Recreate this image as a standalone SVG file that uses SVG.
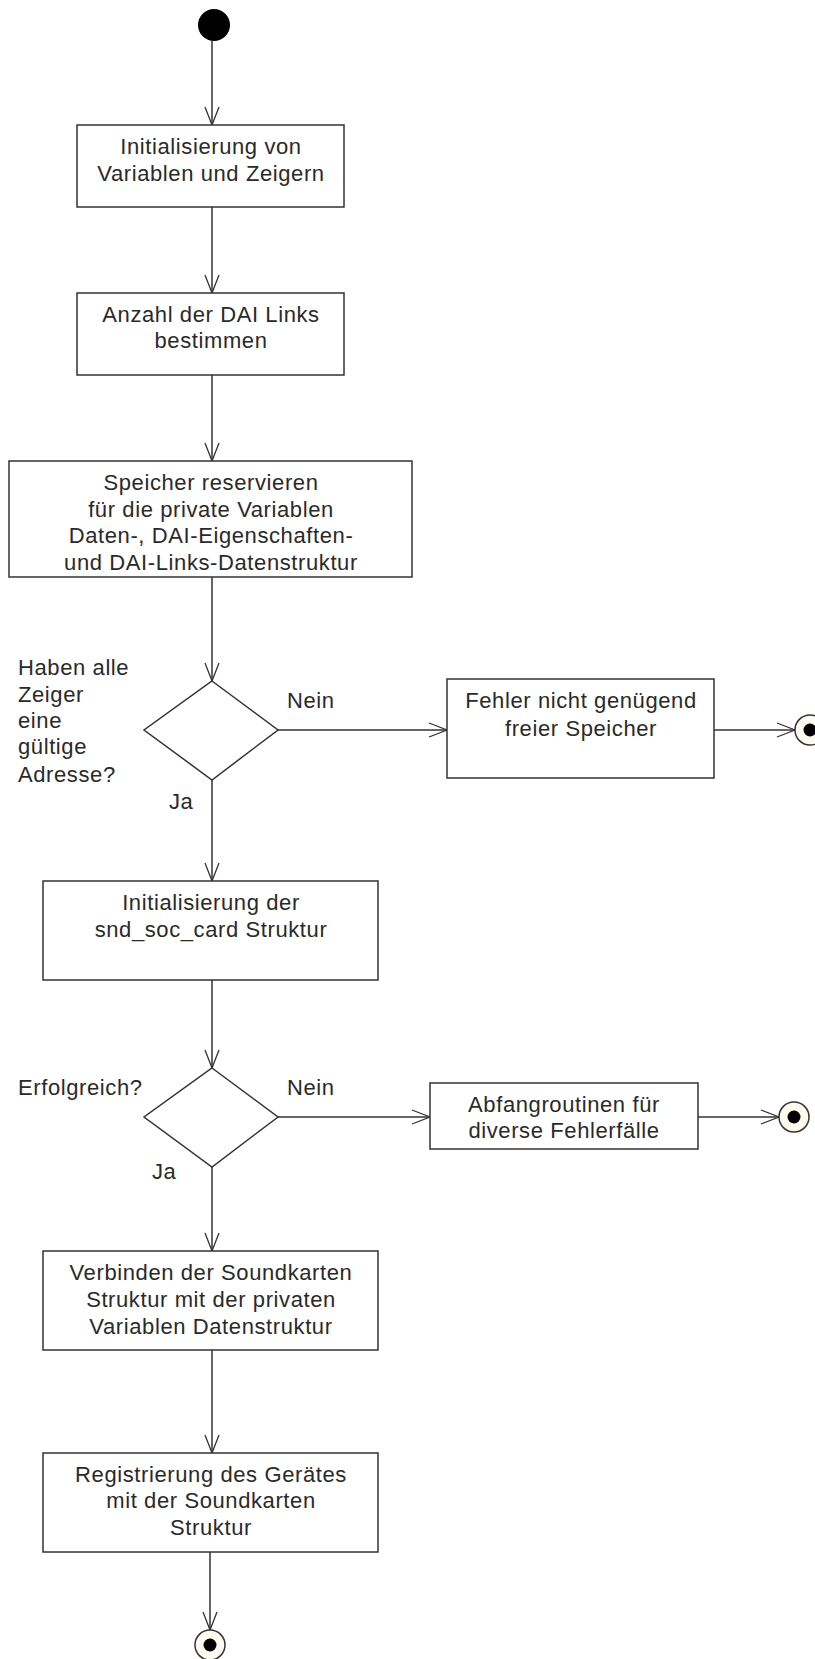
<svg xmlns="http://www.w3.org/2000/svg" width="815" height="1659" viewBox="0 0 815 1659">
<defs>
<style>
.box{fill:#fff;stroke:#333;stroke-width:1.5}
.dia{fill:#fff;stroke:#333;stroke-width:1.5}
.t{font-family:"Liberation Sans",Arial,sans-serif;font-size:22px;fill:#2a2a2a;letter-spacing:0.6px}
.m{text-anchor:middle}
.c{stroke:#333;stroke-width:1.5;fill:none}
.endo{fill:#fffaf0;stroke:#333;stroke-width:1.5}
.endi{fill:#000}
</style>
<marker id="arr" viewBox="-20 -10 22 20" refX="0" refY="0" markerWidth="22" markerHeight="20" markerUnits="userSpaceOnUse" orient="auto">
<path d="M-18,-7 L0,0 L-18,7" fill="none" stroke="#333" stroke-width="1.3"/>
</marker>
</defs>
<rect width="815" height="1659" fill="#fff"/>
<g id="connectors">
<line class="c" x1="212" y1="41" x2="212" y2="125" marker-end="url(#arr)"/>
<line class="c" x1="212" y1="207" x2="212" y2="293" marker-end="url(#arr)"/>
<line class="c" x1="212" y1="375" x2="212" y2="461" marker-end="url(#arr)"/>
<line class="c" x1="212" y1="577" x2="212" y2="681" marker-end="url(#arr)"/>
<line class="c" x1="278" y1="730" x2="447" y2="730" marker-end="url(#arr)"/>
<line class="c" x1="714" y1="730" x2="795" y2="730" marker-end="url(#arr)"/>
<line class="c" x1="212" y1="780" x2="212" y2="881" marker-end="url(#arr)"/>
<line class="c" x1="212" y1="980" x2="212" y2="1068" marker-end="url(#arr)"/>
<line class="c" x1="278" y1="1117" x2="430" y2="1117" marker-end="url(#arr)"/>
<line class="c" x1="698" y1="1117" x2="779" y2="1117" marker-end="url(#arr)"/>
<line class="c" x1="212" y1="1167" x2="212" y2="1251" marker-end="url(#arr)"/>
<line class="c" x1="212" y1="1350" x2="212" y2="1453" marker-end="url(#arr)"/>
<line class="c" x1="210" y1="1552" x2="210" y2="1630" marker-end="url(#arr)"/>
</g>
<g id="start"><circle cx="214" cy="25" r="16" fill="#000"/></g>
<g id="init">
<rect class="box" x="77" y="125" width="267" height="82"/>
<text class="t m" x="211" y="154">Initialisierung von</text>
<text class="t m" x="211" y="181">Variablen und Zeigern</text>
</g>
<g id="anzahl">
<rect class="box" x="77" y="293" width="267" height="82"/>
<text class="t m" x="211" y="322">Anzahl der DAI Links</text>
<text class="t m" x="211" y="348">bestimmen</text>
</g>
<g id="speicher">
<rect class="box" x="9" y="461" width="403" height="116"/>
<text class="t m" x="211" y="490">Speicher reservieren</text>
<text class="t m" x="211" y="517">für die private Variablen</text>
<text class="t m" x="211" y="543">Daten-, DAI-Eigenschaften-</text>
<text class="t m" x="211" y="570">und DAI-Links-Datenstruktur</text>
</g>
<g id="decision1">
<polygon class="dia" points="212,681 278,730 212,780 144,730"/>
<text class="t" x="18" y="675">Haben alle</text>
<text class="t" x="18" y="702">Zeiger</text>
<text class="t" x="18" y="728">eine</text>
<text class="t" x="18" y="754">gültige</text>
<text class="t" x="18" y="782">Adresse?</text>
<text class="t" x="287" y="708">Nein</text>
<text class="t" x="169" y="809">Ja</text>
</g>
<g id="fehler">
<rect class="box" x="447" y="679" width="267" height="99"/>
<text class="t m" x="581" y="708">Fehler nicht genügend</text>
<text class="t m" x="581" y="736">freier Speicher</text>
</g>
<g id="end1"><circle class="endo" cx="810" cy="730" r="15"/><circle class="endi" cx="810" cy="730" r="6.5"/></g>
<g id="snd">
<rect class="box" x="43" y="881" width="335" height="99"/>
<text class="t m" x="211" y="910">Initialisierung der</text>
<text class="t m" x="211" y="937">snd_soc_card Struktur</text>
</g>
<g id="decision2">
<polygon class="dia" points="212,1068 278,1117 212,1167 144,1117"/>
<text class="t" x="18" y="1095">Erfolgreich?</text>
<text class="t" x="287" y="1095">Nein</text>
<text class="t" x="152" y="1179">Ja</text>
</g>
<g id="abfang">
<rect class="box" x="430" y="1083" width="268" height="66"/>
<text class="t m" x="564" y="1112">Abfangroutinen für</text>
<text class="t m" x="564" y="1138">diverse Fehlerfälle</text>
</g>
<g id="end2"><circle class="endo" cx="794" cy="1117" r="15"/><circle class="endi" cx="794" cy="1117" r="6.5"/></g>
<g id="verbinden">
<rect class="box" x="43" y="1251" width="335" height="99"/>
<text class="t m" x="211" y="1280">Verbinden der Soundkarten</text>
<text class="t m" x="211" y="1307">Struktur mit der privaten</text>
<text class="t m" x="211" y="1334">Variablen Datenstruktur</text>
</g>
<g id="registrierung">
<rect class="box" x="43" y="1453" width="335" height="99"/>
<text class="t m" x="211" y="1482">Registrierung des Gerätes</text>
<text class="t m" x="211" y="1508">mit der Soundkarten</text>
<text class="t m" x="211" y="1535">Struktur</text>
</g>
<g id="end3"><circle class="endo" cx="210" cy="1645" r="15"/><circle class="endi" cx="210" cy="1645" r="6.5"/></g>
</svg>
